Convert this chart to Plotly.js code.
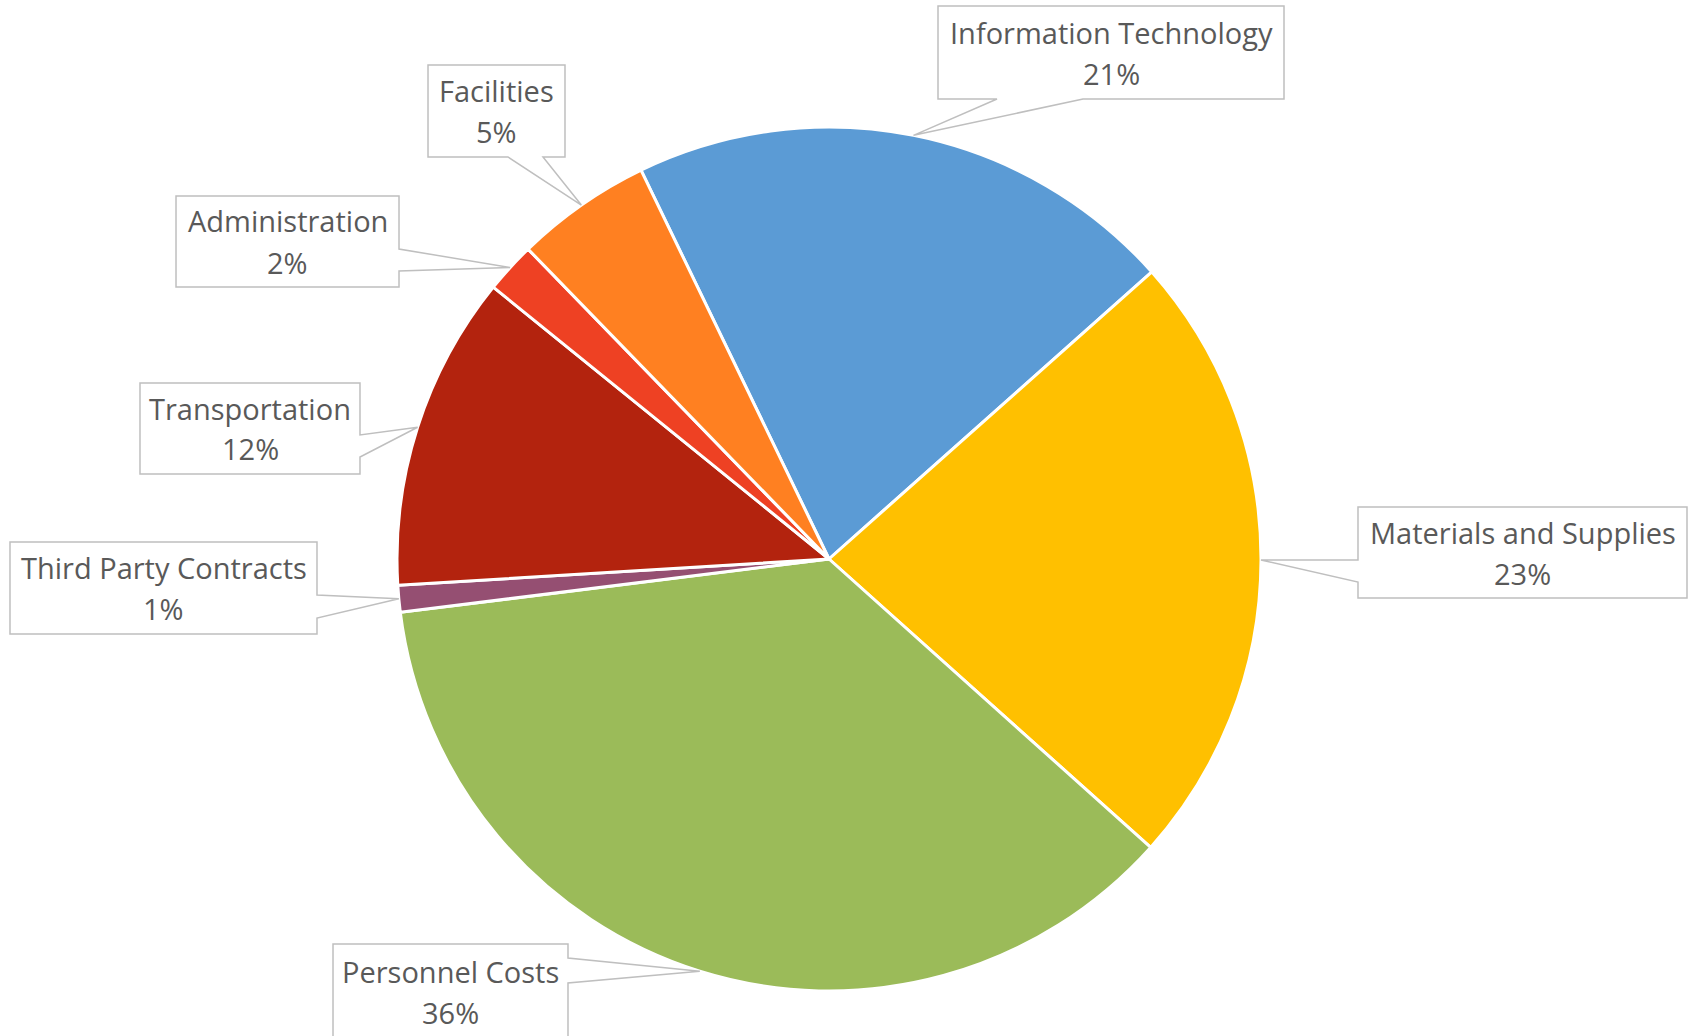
<!DOCTYPE html>
<html>
<head>
<meta charset="utf-8">
<script src="https://cdn.plot.ly/plotly-3.0.1.min.js"></script>
<style>html,body{margin:0;padding:0;background:#fff;}#chart{width:1694px;height:1036px;}</style>
</head>
<body>
<div id="chart"></div>
<script>
// ---- data ----
const categories = ['Information Technology', 'Materials and Supplies', 'Personnel Costs',
  'Third Party Contracts', 'Transportation', 'Administration', 'Facilities'];
const values = [20.6, 23.2, 36.4, 1.0, 11.8, 1.9, 5.1];
const sliceColors = ['#5B9BD5', '#FFC000', '#9BBB59', '#954F72', '#B3230E', '#EE4123', '#FF8021'];

// ---- layout geometry (pixels) ----
const W = 1694, H = 1036;
const CX = 829, CY = 559, R = 432;
const ROTATION = -25.8;
const LINE_GAP = 41;
// callout boxes: [left, top, right, bottom], tail side, tail attach coords along that side
const callouts = [
  {box: [938, 6, 1284, 99], side: 'bottom', a: 997, b: 1083},
  {box: [1358, 507, 1687, 598], side: 'left', a: 560, b: 582},
  {box: [333, 944, 568, 1040], side: 'right', a: 958, b: 983, ty: 992},
  {box: [10, 542, 317, 634], side: 'right', a: 595, b: 618},
  {box: [140, 383, 360, 474], side: 'right', a: 435, b: 457},
  {box: [176, 196, 399, 287], side: 'right', a: 249, b: 271},
  {box: [428, 65, 565, 157], side: 'bottom', a: 508, b: 543}
];

const X = px => px / W;
const Y = py => 1 - py / H;
const labelFont = {family: 'Open Sans, sans-serif', size: 29, color: '#595959'};

const total = values.reduce((s, v) => s + v, 0);
let cum = 0;
const shapes = [];
const annotations = [];
values.forEach((v, i) => {
  const mid = (ROTATION + (cum + v / 2) / total * 360) * Math.PI / 180;
  cum += v;
  const tx = CX + R * Math.sin(mid), ty = CY - R * Math.cos(mid);
  const c = callouts[i];
  const [l, t, r, b] = c.box;
  let pts;
  if (c.side === 'bottom') {
    pts = [[l, t], [r, t], [r, b], [c.b, b], [tx, ty], [c.a, b], [l, b]];
  } else if (c.side === 'right') {
    pts = [[l, t], [r, t], [r, c.a], [tx, ty], [r, c.b], [r, b], [l, b]];
  } else {
    pts = [[l, t], [r, t], [r, b], [l, b], [l, c.b], [tx, ty], [l, c.a]];
  }
  const path = 'M' + pts.map(p => X(p[0]).toFixed(5) + ',' + Y(p[1]).toFixed(5)).join(' L') + ' Z';
  shapes.push({type: 'path', xref: 'paper', yref: 'paper', path: path,
    fillcolor: '#ffffff', line: {color: '#BFBFBF', width: 1.5}, layer: 'above'});
  const cyText = c.ty || (t + b) / 2;
  annotations.push({xref: 'paper', yref: 'paper', x: X((l + r) / 2), y: Y(cyText - LINE_GAP / 2),
    xanchor: 'center', yanchor: 'middle', showarrow: false,
    text: categories[i], font: labelFont});
  annotations.push({xref: 'paper', yref: 'paper', x: X((l + r) / 2), y: Y(cyText + LINE_GAP / 2),
    xanchor: 'center', yanchor: 'middle', showarrow: false,
    text: Math.round(v / total * 100) + '%', font: labelFont});
});

const trace = {
  type: 'pie', labels: categories, values: values, sort: false,
  direction: 'clockwise', rotation: ROTATION,
  marker: {colors: sliceColors, line: {color: '#ffffff', width: 3}},
  textinfo: 'none', hoverinfo: 'label+percent',
  domain: {x: [X(CX - R), X(CX + R)], y: [Y(CY + R), Y(CY - R)]}
};

Plotly.newPlot('chart', [trace], {
  width: W, height: H, margin: {l: 0, r: 0, t: 0, b: 0},
  paper_bgcolor: '#ffffff', plot_bgcolor: '#ffffff', showlegend: false,
  shapes: shapes, annotations: annotations
}, {displayModeBar: false});
</script>
</body>
</html>
